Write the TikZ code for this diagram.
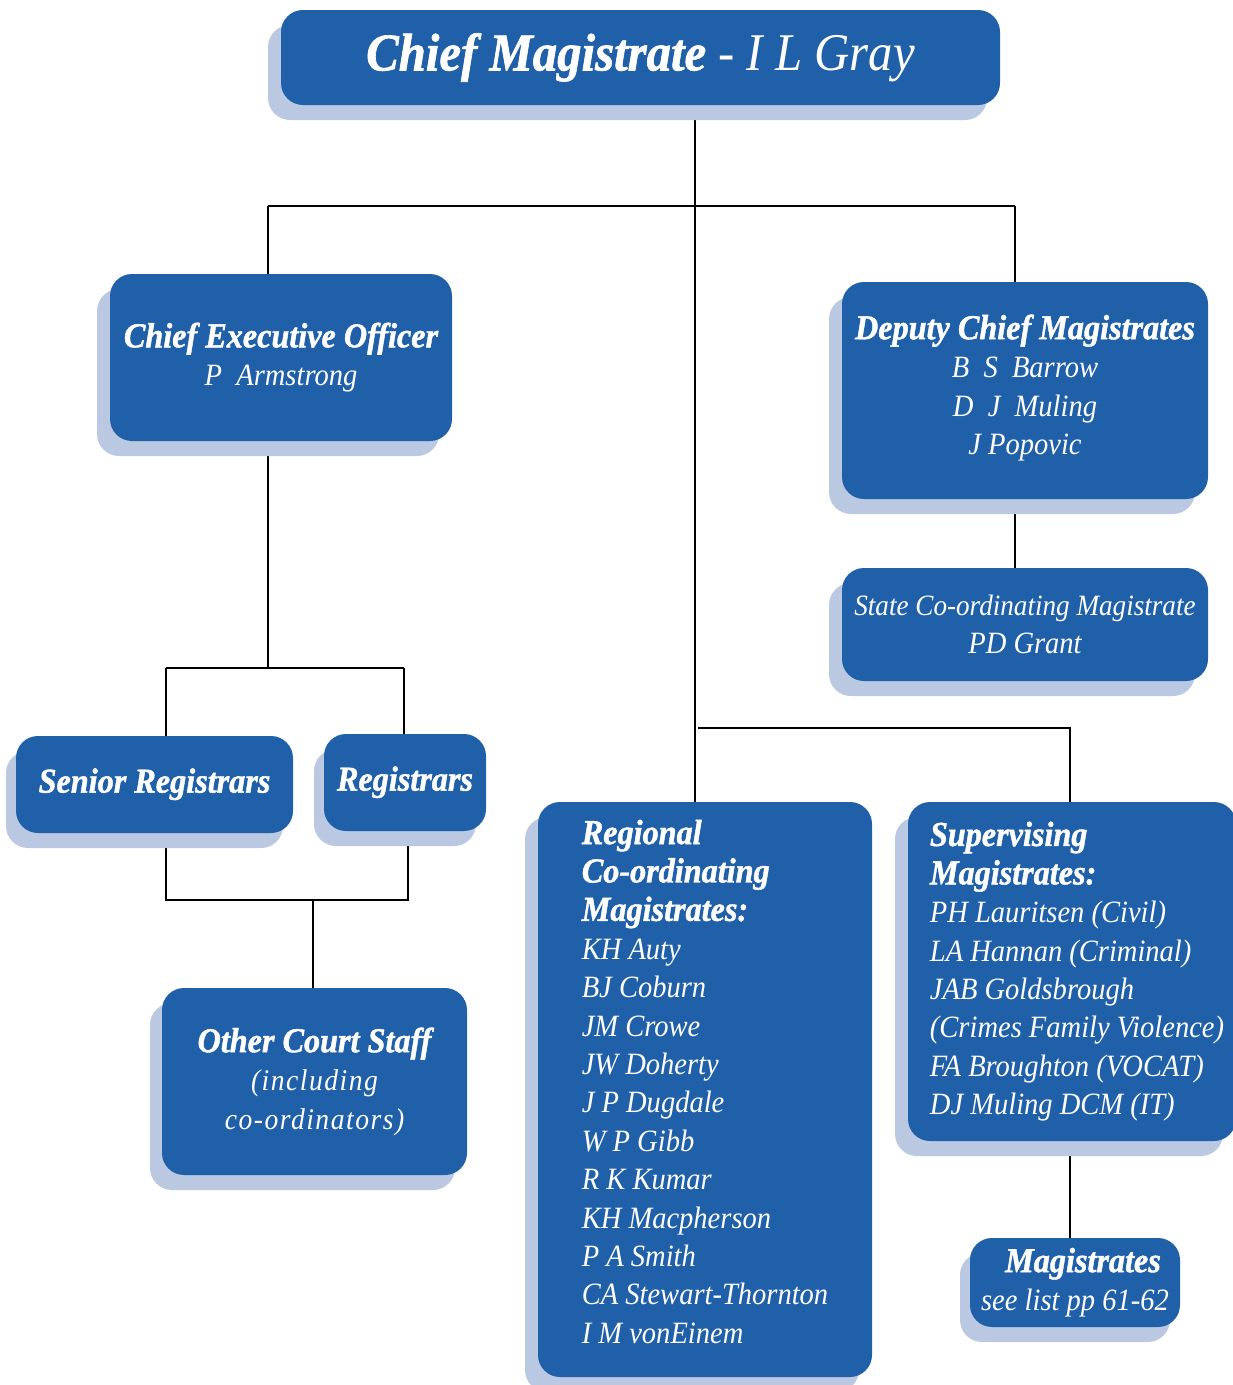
\documentclass[tikz,border=0pt]{standalone}
\usepackage{fontspec}
\setmainfont{Liberation Serif}[FakeStretch=0.92,BoldItalicFeatures={FakeBold=1.2}]
\newfontfamily\spacedfam{Liberation Serif}[FakeStretch=0.92,LetterSpace=5]
\usetikzlibrary{shadows,backgrounds}
\definecolor{mainblue}{RGB}{31,96,169}
\definecolor{shadowblue}{RGB}{186,200,225}
\newcommand\hdf{\fontsize{35}{38.4}\selectfont\bfseries\itshape}
\newcommand\nmf{\fontsize{31}{38.4}\selectfont\itshape}
\newcommand\ttlb{\fontsize{53}{60}\selectfont\bfseries\itshape}
\newcommand\ttlr{\fontsize{53}{60}\selectfont\itshape}
\newcommand\lowpad[1]{\rule[-#1]{0pt}{#1}}
\newcommand\ind{\hspace*{10pt}}
\begin{document}
\begin{tikzpicture}[x=1pt,y=-1pt,
  box/.style={fill=mainblue, rounded corners=22pt, text=white, inner sep=0pt,
    font=\fontsize{31}{38.4}\selectfont,
    drop shadow={shadow xshift=#1, shadow yshift=-15pt, fill=shadowblue, opacity=1}},
  box/.default=-13pt,
  conn/.style={line width=1.8pt, black}]
\useasboundingbox (0,0) rectangle (1233,1385);

% boxes
\node[box, align=center, minimum width=719pt, minimum height=95pt] (title) at (640.5,57.5)
  {{\ttlb Chief Magistrate}{\ttlr\ - I L Gray}};
\node[box, align=center, minimum width=342pt, minimum height=167pt] (ceo) at (281,357.5)
  {{\hdf Chief Executive Officer}\\{\nmf P\ \ Armstrong}\lowpad{6pt}};
\node[box, align=center, minimum width=366pt, minimum height=217pt] (dep) at (1025,390.5)
  {{\hdf Deputy Chief Magistrates}\\{\nmf B\ \ S\ \ Barrow}\\{\nmf D\ \ J\ \ Muling}\\{\nmf J Popovic}\lowpad{12pt}};
\node[box, align=center, minimum width=366pt, minimum height=113pt] (state) at (1025,624.5)
  {{\fontsize{29.5}{38.4}\selectfont\itshape State Co-ordinating Magistrate}\\{\nmf PD Grant}};
\node[box=-10pt, align=center, minimum width=277pt, minimum height=97pt] (senreg) at (154.5,784.5)
  {{\hdf Senior Registrars}\lowpad{8pt}};
\node[box=-10pt, align=center, minimum width=162pt, minimum height=97pt] (reg) at (405,782.5)
  {{\hdf Registrars}\lowpad{8pt}};
\node[box=-12pt, align=center, minimum width=305pt, minimum height=187pt] (other) at (314.5,1081.5)
  {{\hdf Other Court Staff}\\{\fontsize{30}{38.4}\selectfont\spacedfam\itshape (including}\\{\fontsize{30}{38.4}\selectfont\spacedfam\itshape co-ordinators)}};
\node[box, align=left, minimum width=334pt, minimum height=575pt] (regional) at (705,1089.5)
  {{\hdf Regional}\\{\hdf Co-ordinating}\\{\hdf Magistrates:}\\
   {\nmf KH Auty}\\{\nmf BJ Coburn}\\{\nmf JM Crowe}\\{\nmf JW Doherty}\\
   {\nmf J P Dugdale}\\{\nmf W P Gibb}\\{\nmf R K Kumar}\\{\nmf KH Macpherson}\\
   {\nmf P A Smith}\\{\nmf CA Stewart-Thornton}\\{\nmf I M vonEinem}\lowpad{16pt}};
\node[box, align=left, minimum width=328pt, minimum height=339pt] (sup) at (1072,971.5)
  {\ind{\hdf Supervising}\\\ind{\hdf Magistrates:}\\\ind{\nmf PH Lauritsen (Civil)}\\
   \ind{\nmf LA Hannan (Criminal)}\\\ind{\nmf JAB Goldsbrough}\\\ind{\nmf (Crimes Family Violence)}\\
   \ind{\nmf FA Broughton (VOCAT)}\\\ind{\nmf DJ Muling DCM (IT)}\lowpad{4pt}};
\node[box=-10pt, align=center, minimum width=210pt, minimum height=89pt] (mag) at (1075,1282.5)
  {\hspace*{16pt}{\hdf Magistrates}\\{\nmf see list pp 61-62}};

% junction points
\coordinate (trunk) at (695,206);
\coordinate (hL) at (268,206);
\coordinate (hR) at (1015,206);
\coordinate (rL) at (166,668);
\coordinate (rR) at (404,668);
\coordinate (bL) at (166,900);
\coordinate (bR) at (408,900);
\coordinate (bM) at (313,900);
\coordinate (sA) at (698,728);
\coordinate (sB) at (1070,728);

\begin{scope}[on background layer]
\draw[conn] (title.south -| trunk) -- (regional.north -| trunk);
\draw[conn] (hL) -- (hR);
\draw[conn] (hL) -- (ceo.north -| hL);
\draw[conn] (hR) -- (dep.north -| hR);
\draw[conn] (ceo.south -| hL) -- (hL |- rL);
\draw[conn] (rL) -- (rR);
\draw[conn] (rL) -- (senreg.north -| rL);
\draw[conn] (rR) -- (reg.north -| rR);
\draw[conn] (senreg.south -| bL) -- (bL) -- (bR) -- (reg.south -| bR);
\draw[conn] (bM) -- (other.north -| bM);
\draw[conn] (dep.south -| hR) -- (state.north -| hR);
\draw[conn] (sA) -- (sB) -- (sup.north -| sB);
\draw[conn] (sup.south -| sB) -- (mag.north -| sB);
\end{scope}
\end{tikzpicture}
\end{document}
